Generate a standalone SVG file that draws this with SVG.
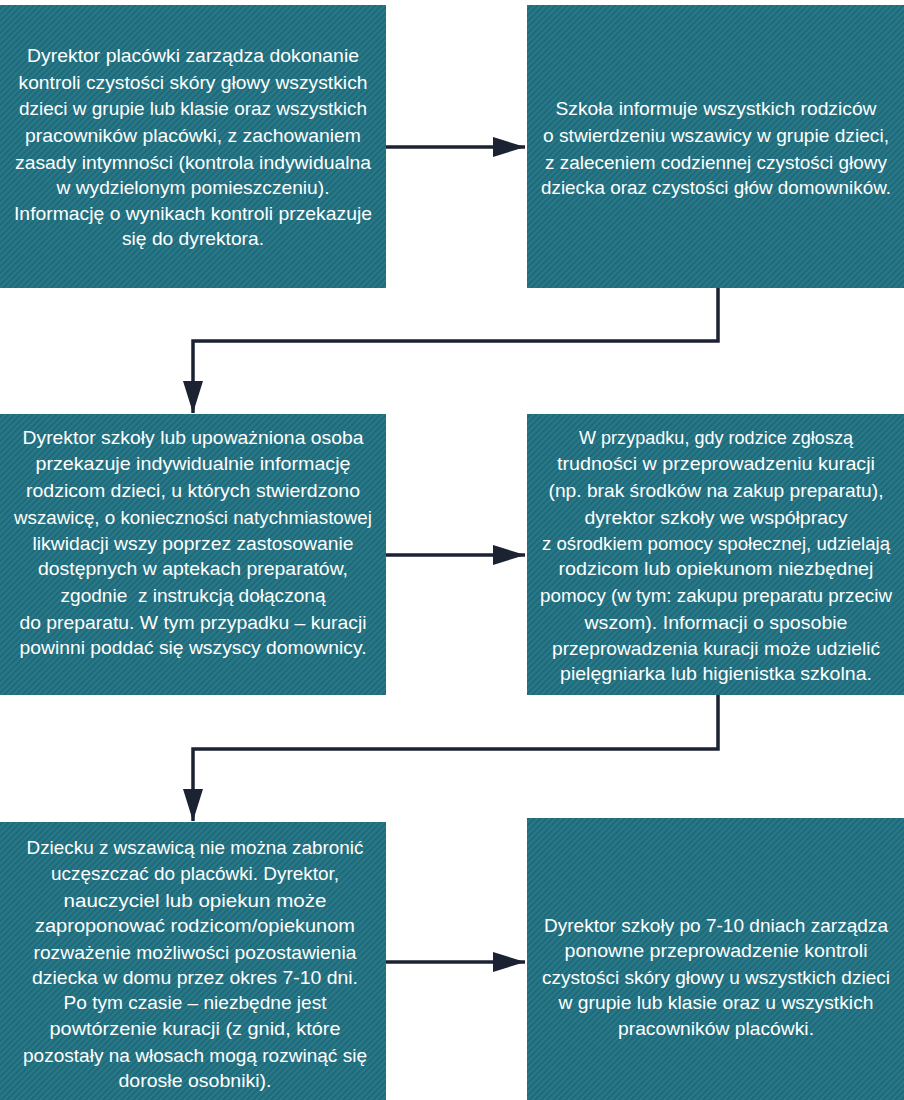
<svg xmlns="http://www.w3.org/2000/svg" width="904" height="1100" viewBox="0 0 904 1100">
  <style>
    .box { fill: #1e6f7f; }
    .tex { fill: url(#weave); }
    .t { font-family: "Liberation Sans Narrow", "Liberation Sans", Arial, sans-serif; font-size: 19px; fill: #ffffff; text-anchor: middle; }
    .conn { fill: none; stroke: #1b2232; stroke-width: 3.5; }
  </style>
  <defs>
    <pattern id="weave" width="6" height="6" patternUnits="userSpaceOnUse">
      <path d="M0 6 L6 0 M-1 1 L1 -1 M5 7 L7 5" stroke="#ffffff" stroke-opacity="0.07" stroke-width="1.5"/>
      <path d="M0 3 L3 0 M3 6 L6 3" stroke="#0a3340" stroke-opacity="0.12" stroke-width="1"/>
    </pattern>
    <marker id="arr" markerUnits="userSpaceOnUse" markerWidth="34" markerHeight="22" refX="32" refY="10" orient="auto">
      <path d="M0 0 L32 10 L0 20 Z" fill="#1b2232"/>
    </marker>
  </defs>

  <rect width="904" height="1100" fill="#ffffff"/>

  <g id="connectors">
    <line class="conn" x1="386" y1="147" x2="525" y2="147" marker-end="url(#arr)"/>
    <path class="conn" d="M718 288 V341 H193 V413" marker-end="url(#arr)"/>
    <line class="conn" x1="386" y1="555" x2="525" y2="555" marker-end="url(#arr)"/>
    <path class="conn" d="M718 695 V749 H193 V821" marker-end="url(#arr)"/>
    <line class="conn" x1="386" y1="962" x2="525" y2="962" marker-end="url(#arr)"/>
  </g>

  <g id="node1">
    <rect class="box" x="0" y="5" width="386" height="283"/>
    <rect class="tex" x="0" y="5" width="386" height="283"/>
    <text class="t" x="193" y="62" textLength="332" lengthAdjust="spacingAndGlyphs">Dyrektor placówki zarządza dokonanie</text>
    <text class="t" x="193" y="89" textLength="349" lengthAdjust="spacingAndGlyphs">kontroli czystości skóry głowy wszystkich</text>
    <text class="t" x="193" y="115" textLength="348" lengthAdjust="spacingAndGlyphs">dzieci w grupie lub klasie oraz wszystkich</text>
    <text class="t" x="193" y="142" textLength="336" lengthAdjust="spacingAndGlyphs">pracowników placówki, z zachowaniem</text>
    <text class="t" x="193" y="169" textLength="356" lengthAdjust="spacingAndGlyphs">zasady intymności (kontrola indywidualna</text>
    <text class="t" x="193" y="194" textLength="273" lengthAdjust="spacingAndGlyphs">w wydzielonym pomieszczeniu).</text>
    <text class="t" x="193" y="220" textLength="358" lengthAdjust="spacingAndGlyphs">Informację o wynikach kontroli przekazuje</text>
    <text class="t" x="193" y="245" textLength="142" lengthAdjust="spacingAndGlyphs">się do dyrektora.</text>
  </g>

  <g id="node2">
    <rect class="box" x="527" y="5" width="377" height="283"/>
    <rect class="tex" x="527" y="5" width="377" height="283"/>
    <text class="t" x="716" y="115" textLength="321" lengthAdjust="spacingAndGlyphs">Szkoła informuje wszystkich rodziców</text>
    <text class="t" x="716" y="142" textLength="346" lengthAdjust="spacingAndGlyphs">o stwierdzeniu wszawicy w grupie dzieci,</text>
    <text class="t" x="716" y="169" textLength="342" lengthAdjust="spacingAndGlyphs">z zaleceniem codziennej czystości głowy</text>
    <text class="t" x="716" y="194" textLength="350" lengthAdjust="spacingAndGlyphs">dziecka oraz czystości głów domowników.</text>
  </g>

  <g id="node3">
    <rect class="box" x="0" y="414" width="386" height="281"/>
    <rect class="tex" x="0" y="414" width="386" height="281"/>
    <text class="t" x="193" y="444" textLength="341" lengthAdjust="spacingAndGlyphs">Dyrektor szkoły lub upoważniona osoba</text>
    <text class="t" x="193" y="470" textLength="315" lengthAdjust="spacingAndGlyphs">przekazuje indywidualnie informację</text>
    <text class="t" x="193" y="497" textLength="334" lengthAdjust="spacingAndGlyphs">rodzicom dzieci, u których stwierdzono</text>
    <text class="t" x="193" y="524" textLength="358" lengthAdjust="spacingAndGlyphs">wszawicę, o konieczności natychmiastowej</text>
    <text class="t" x="193" y="550" textLength="321" lengthAdjust="spacingAndGlyphs">likwidacji wszy poprzez zastosowanie</text>
    <text class="t" x="193" y="575" textLength="310" lengthAdjust="spacingAndGlyphs">dostępnych w aptekach preparatów,</text>
    <text class="t" x="193" y="602" textLength="265" lengthAdjust="spacingAndGlyphs" xml:space="preserve">zgodnie  z instrukcją dołączoną</text>
    <text class="t" x="193" y="629" textLength="347" lengthAdjust="spacingAndGlyphs">do preparatu. W tym przypadku – kuracji</text>
    <text class="t" x="193" y="654" textLength="347" lengthAdjust="spacingAndGlyphs">powinni poddać się wszyscy domownicy.</text>
  </g>

  <g id="node4">
    <rect class="box" x="527" y="414" width="377" height="281"/>
    <rect class="tex" x="527" y="414" width="377" height="281"/>
    <text class="t" x="716" y="444" textLength="274" lengthAdjust="spacingAndGlyphs">W przypadku, gdy rodzice zgłoszą</text>
    <text class="t" x="716" y="470" textLength="318" lengthAdjust="spacingAndGlyphs">trudności w przeprowadzeniu kuracji</text>
    <text class="t" x="716" y="497" textLength="335" lengthAdjust="spacingAndGlyphs">(np. brak środków na zakup preparatu),</text>
    <text class="t" x="716" y="524" textLength="263" lengthAdjust="spacingAndGlyphs">dyrektor szkoły we współpracy</text>
    <text class="t" x="716" y="550" textLength="348" lengthAdjust="spacingAndGlyphs">z ośrodkiem pomocy społecznej, udzielają</text>
    <text class="t" x="716" y="575" textLength="315" lengthAdjust="spacingAndGlyphs">rodzicom lub opiekunom niezbędnej</text>
    <text class="t" x="716" y="602" textLength="352" lengthAdjust="spacingAndGlyphs">pomocy (w tym: zakupu preparatu przeciw</text>
    <text class="t" x="716" y="629" textLength="263" lengthAdjust="spacingAndGlyphs">wszom). Informacji o sposobie</text>
    <text class="t" x="716" y="655" textLength="328" lengthAdjust="spacingAndGlyphs">przeprowadzenia kuracji może udzielić</text>
    <text class="t" x="716" y="680" textLength="312" lengthAdjust="spacingAndGlyphs">pielęgniarka lub higienistka szkolna.</text>
  </g>

  <g id="node5">
    <rect class="box" x="0" y="822" width="386" height="278"/>
    <rect class="tex" x="0" y="822" width="386" height="278"/>
    <text class="t" x="195" y="854" textLength="337" lengthAdjust="spacingAndGlyphs">Dziecku z wszawicą nie można zabronić</text>
    <text class="t" x="195" y="880" textLength="288" lengthAdjust="spacingAndGlyphs">uczęszczać do placówki. Dyrektor,</text>
    <text class="t" x="195" y="907" textLength="263" lengthAdjust="spacingAndGlyphs">nauczyciel lub opiekun może</text>
    <text class="t" x="195" y="932" textLength="320" lengthAdjust="spacingAndGlyphs">zaproponować rodzicom/opiekunom</text>
    <text class="t" x="195" y="959" textLength="323" lengthAdjust="spacingAndGlyphs">rozważenie możliwości pozostawienia</text>
    <text class="t" x="195" y="984" textLength="326" lengthAdjust="spacingAndGlyphs">dziecka w domu przez okres 7-10 dni.</text>
    <text class="t" x="195" y="1009" textLength="263" lengthAdjust="spacingAndGlyphs">Po tym czasie – niezbędne jest</text>
    <text class="t" x="195" y="1035" textLength="291" lengthAdjust="spacingAndGlyphs">powtórzenie kuracji (z gnid, które</text>
    <text class="t" x="195" y="1062" textLength="344" lengthAdjust="spacingAndGlyphs">pozostały na włosach mogą rozwinąć się</text>
    <text class="t" x="195" y="1087" textLength="153" lengthAdjust="spacingAndGlyphs">dorosłe osobniki).</text>
  </g>

  <g id="node6">
    <rect class="box" x="527" y="818" width="377" height="282"/>
    <rect class="tex" x="527" y="818" width="377" height="282"/>
    <text class="t" x="716" y="932" textLength="344" lengthAdjust="spacingAndGlyphs">Dyrektor szkoły po 7-10 dniach zarządza</text>
    <text class="t" x="716" y="957" textLength="303" lengthAdjust="spacingAndGlyphs">ponowne przeprowadzenie kontroli</text>
    <text class="t" x="716" y="984" textLength="348" lengthAdjust="spacingAndGlyphs">czystości skóry głowy u wszystkich dzieci</text>
    <text class="t" x="716" y="1009" textLength="315" lengthAdjust="spacingAndGlyphs">w grupie lub klasie oraz u wszystkich</text>
    <text class="t" x="716" y="1035" textLength="196" lengthAdjust="spacingAndGlyphs">pracowników placówki.</text>
  </g>
</svg>
